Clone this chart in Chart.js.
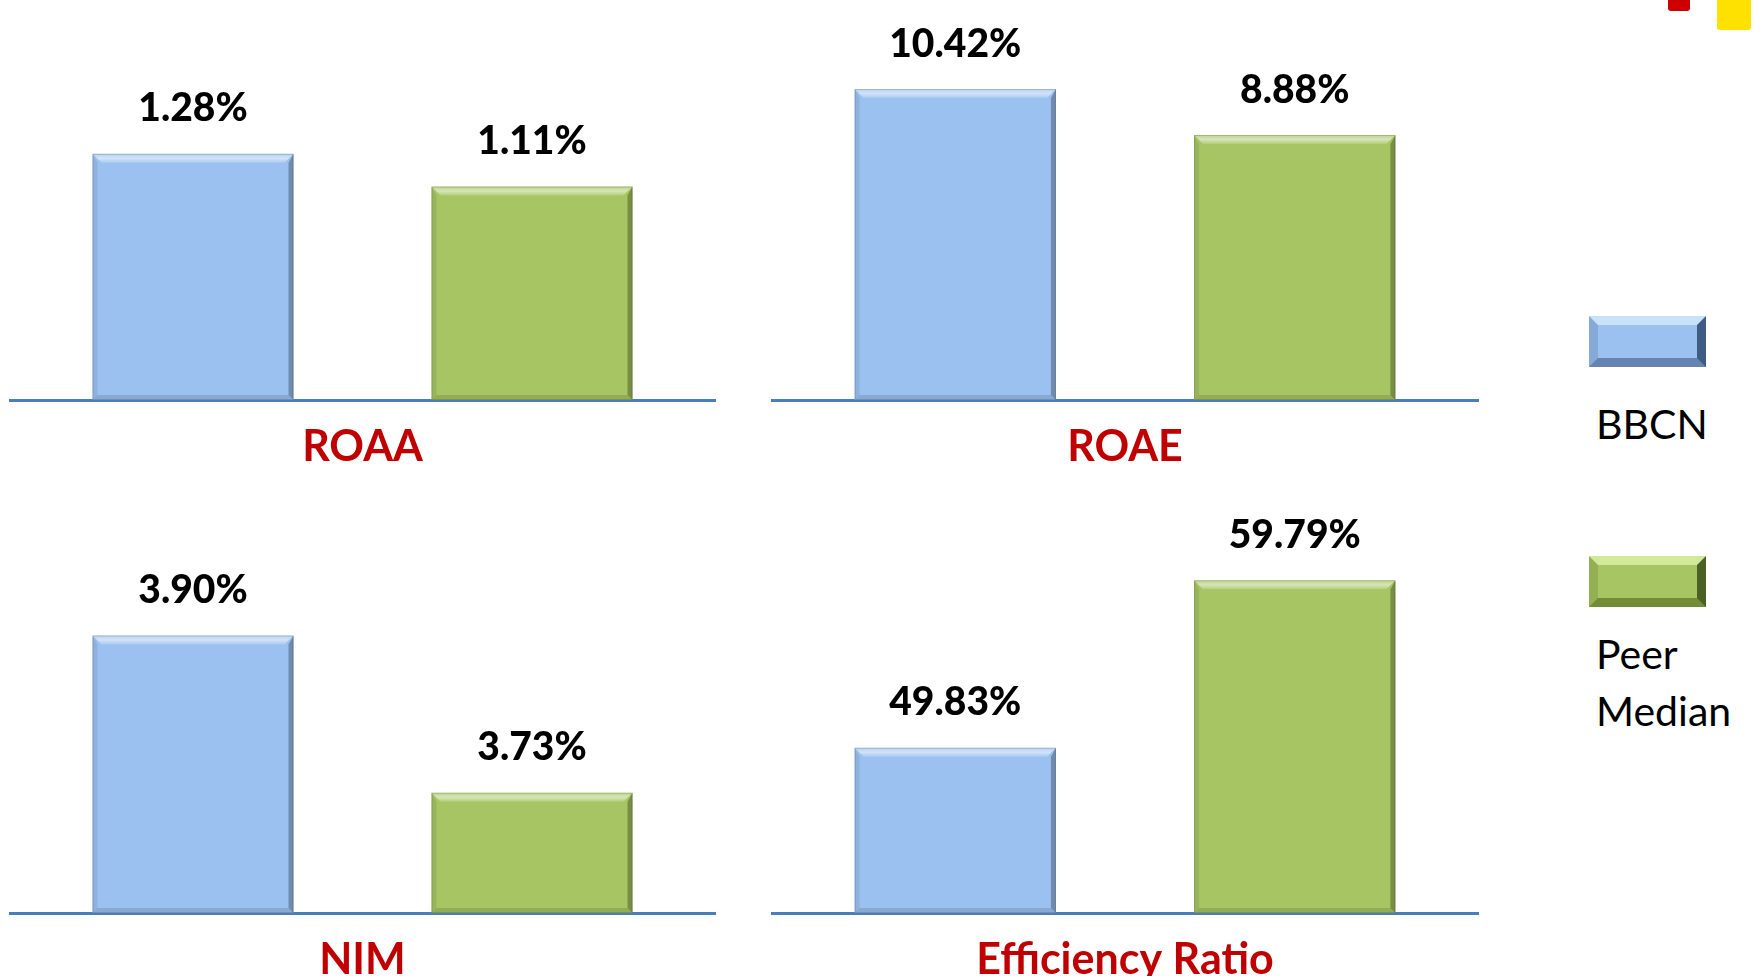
<!DOCTYPE html>
<html>
<head>
<meta charset="utf-8">
<script src="https://cdn.jsdelivr.net/npm/chart.js@4/dist/chart.umd.min.js"></script>
<style>
  html, body { margin: 0; padding: 0; background: #fff; overflow: hidden; }
  body { width: 1762px; height: 976px; position: relative; font-family: Lato, "Open Sans", sans-serif; }
  .panel { position: absolute; }
  .swatch { position: absolute; left: 1589px; width: 117px; height: 51px; box-sizing: border-box; border: 9px solid; }
  .swatch.blue { top: 316px; background: #9bc1f0; border-color: #c9e2fb #3f5c82 #6585b0 #86a9d8; }
  .swatch.green { top: 556px; background: #a7c562; border-color: #d3e99a #4a6024 #728c38 #93b152; }
  .legend-text { position: absolute; left: 1596px; font-size: 41px; line-height: 57px; color: #000; }
  .corner { position: absolute; top: 0; border-radius: 0 0 3px 3px; }
</style>
</head>
<body>
<div class="panel" style="left:9px;top:0;width:707px;height:495px"><canvas id="roaa"></canvas></div>
<div class="panel" style="left:771px;top:0;width:708px;height:495px"><canvas id="roae"></canvas></div>
<div class="panel" style="left:9px;top:480px;width:707px;height:528px"><canvas id="nim"></canvas></div>
<div class="panel" style="left:771px;top:480px;width:708px;height:528px"><canvas id="eff"></canvas></div>

<div class="swatch blue"></div>
<div class="legend-text" style="top:395px">BBCN</div>
<div class="swatch green"></div>
<div class="legend-text" style="top:625px">Peer<br>Median</div>

<div class="corner" style="left:1668px;width:22px;height:11px;background:#cc0000"></div>
<div class="corner" style="left:1717px;width:34px;height:30px;background:#ffe100"></div>

<script>
  const SERIES_NAMES = ["BBCN", "Peer Median"];
  const METRICS = ["ROAA", "ROAE", "NIM", "Efficiency Ratio"];
  const BBCN_VALUES = [1.28, 10.42, 3.90, 49.83];
  const PEER_VALUES = [1.11, 8.88, 3.73, 59.79];
  // axis range per panel (the original slide does not start NIM and efficiency at zero)
  const AXIS_MIN = [0, 0, 3.6, 40];
  const AXIS_MAX = [2.08, 13.4, 4.068, 65.76];
  const CANVAS_IDS = ["roaa", "roae", "nim", "eff"];

  const FONT = 'Lato, "Open Sans", sans-serif';
  const BAR_COLORS = ["#9bc1f0", "#a7c562"];

  // bevelled look of the PowerPoint bars
  const bevelPlugin = {
    id: "bevel",
    afterDatasetsDraw(chart) {
      const ctx = chart.ctx;
      const area = chart.chartArea;
      chart.data.datasets.forEach((ds, i) => {
        chart.getDatasetMeta(i).data.forEach((bar) => {
          const l = bar.x - bar.width / 2;
          const r = bar.x + bar.width / 2;
          const t = bar.y;
          const b = Math.min(bar.base, area.bottom);
          const d = 9;
          const s = 5;
          ctx.save();
          const g = ctx.createLinearGradient(0, t, 0, t + d);
          g.addColorStop(0, "rgba(255,255,255,0.25)");
          g.addColorStop(0.5, "rgba(255,255,255,0.55)");
          g.addColorStop(1, "rgba(255,255,255,0.15)");
          ctx.fillStyle = g;
          ctx.beginPath();
          ctx.moveTo(l, t); ctx.lineTo(r, t); ctx.lineTo(r - d, t + d); ctx.lineTo(l + d, t + d);
          ctx.closePath(); ctx.fill();
          ctx.fillStyle = "rgba(0,0,0,0.08)";
          ctx.beginPath();
          ctx.moveTo(l, t); ctx.lineTo(l + s, t + d); ctx.lineTo(l + s, b - s); ctx.lineTo(l, b);
          ctx.closePath(); ctx.fill();
          ctx.fillStyle = "rgba(0,0,0,0.28)";
          ctx.beginPath();
          ctx.moveTo(r, t); ctx.lineTo(r - s, t + d); ctx.lineTo(r - s, b - s); ctx.lineTo(r, b);
          ctx.closePath(); ctx.fill();
          ctx.fillStyle = "rgba(0,0,0,0.12)";
          ctx.beginPath();
          ctx.moveTo(l, b); ctx.lineTo(r, b); ctx.lineTo(r - s, b - s); ctx.lineTo(l + s, b - s);
          ctx.closePath(); ctx.fill();
          ctx.strokeStyle = "rgba(0,0,0,0.15)";
          ctx.lineWidth = 1;
          ctx.strokeRect(l + 0.5, t + 0.5, r - l - 1, b - t - 1);
          ctx.restore();
        });
      });
    },
  };

  const valueLabelPlugin = {
    id: "valueLabels",
    afterDatasetsDraw(chart) {
      const ctx = chart.ctx;
      ctx.save();
      ctx.font = `900 39px ${FONT}`;
      ctx.fillStyle = "#000";
      ctx.textAlign = "center";
      ctx.textBaseline = "middle";
      chart.data.datasets.forEach((ds, i) => {
        chart.getDatasetMeta(i).data.forEach((bar, j) => {
          ctx.fillText(ds.data[j].toFixed(2) + "%", bar.x, bar.y - 45);
        });
      });
      ctx.restore();
    },
  };

  CANVAS_IDS.forEach((id, k) => {
    new Chart(document.getElementById(id), {
      type: "bar",
      data: {
        labels: [METRICS[k]],
        datasets: [
          { label: SERIES_NAMES[0], data: [BBCN_VALUES[k]], backgroundColor: BAR_COLORS[0] },
          { label: SERIES_NAMES[1], data: [PEER_VALUES[k]], backgroundColor: BAR_COLORS[1] },
        ],
      },
      options: {
        responsive: true,
        maintainAspectRatio: false,
        animation: false,
        layout: { padding: 0 },
        datasets: { bar: { categoryPercentage: 0.959, barPercentage: 0.593 } },
        plugins: { legend: { display: false }, tooltip: { enabled: false } },
        scales: {
          x: {
            grid: { display: false, drawTicks: false },
            border: { display: true, color: "#4a7ebb", width: 3 },
            ticks: {
              color: "#c00000",
              padding: 26,
              font: { family: FONT, size: 43, weight: "bold", lineHeight: 1 },
            },
          },
          y: {
            display: false,
            min: AXIS_MIN[k],
            max: AXIS_MAX[k],
          },
        },
      },
      plugins: [bevelPlugin, valueLabelPlugin],
    });
  });
</script>
</body>
</html>
